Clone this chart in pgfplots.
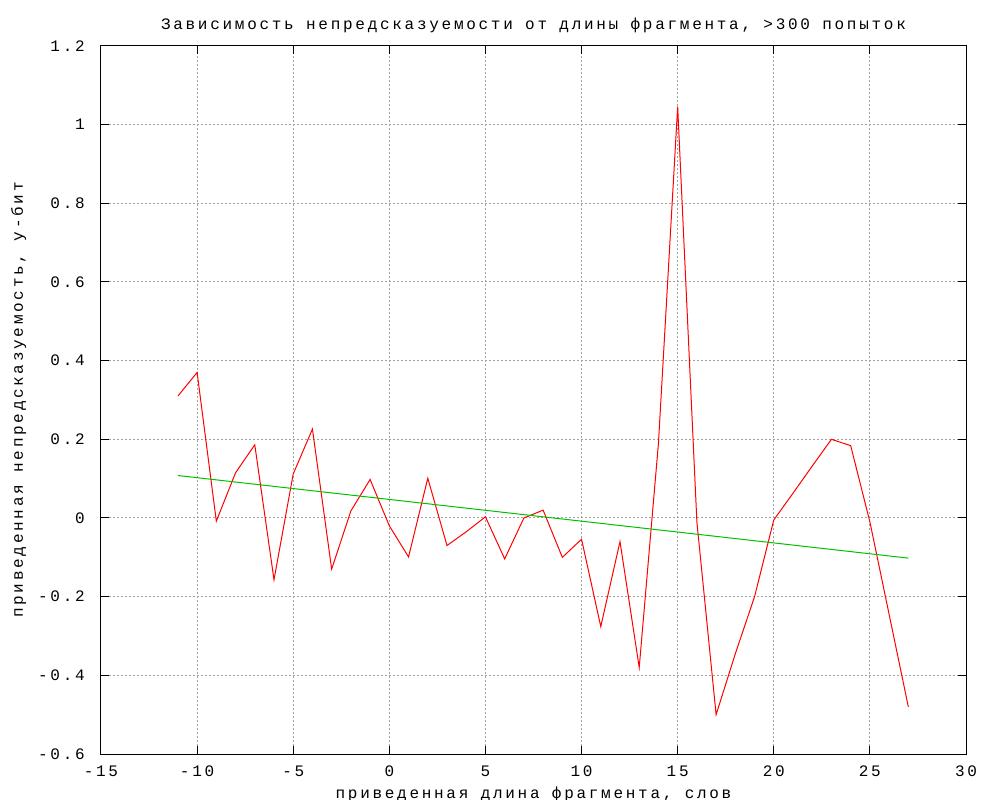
\documentclass[border=0pt]{standalone}
\usepackage{fontspec}
\setmainfont{Liberation Mono}[LetterSpace=17]
\usepackage{pgfplots}
\pgfplotsset{compat=1.18}
\definecolor{gpred}{HTML}{FF0000}
\definecolor{gpgreen}{HTML}{00C000}
\definecolor{gpgrid}{HTML}{A0A0A0}

\begin{document}
\fontsize{12pt}{14pt}\selectfont
\begin{tikzpicture}
\begin{axis}[
    at={(0,0)}, anchor=south west,
    scale only axis,
    width=648.75pt, height=531pt,
    xmin=-15, xmax=30, ymin=-0.6, ymax=1.2,
    xtick={-15,-10,...,30},
    ytick={-0.6,-0.4,-0.2,0,0.2,0.4,0.6,0.8,1,1.2},
    yticklabels={-0.6,-0.4,-0.2,0,0.2,0.4,0.6,0.8,1,1.2},
    tick align=inside,
    major tick length=6pt,
    every tick/.style={black, line width=0.75pt},
    axis line style={line width=0.75pt},
    grid=major,
    grid style={gpgrid, line width=0.75pt, dash pattern=on 1.5pt off 1.5pt},
    /pgf/number format/assume math mode=true,
    yticklabel style={anchor=east, xshift=-8pt},
    xticklabel style={anchor=north, yshift=-5pt},
    title={Зависимость непредсказуемости от длины фрагмента, >300 попыток},
    title style={at={(axis description cs:0.5,1.0113)}, anchor=base},
    xlabel={приведенная длина фрагмента, слов},
    xlabel style={at={(axis description cs:0.5,-0.063)}, anchor=base},
    ylabel={приведенная непредсказуемость, у-бит},
    ylabel style={at={(axis description cs:-0.0902,0.5)}, anchor=base},
]
\addplot[gpred, line width=0.75pt] coordinates {
    (-11,0.31) (-10,0.37) (-9,-0.008) (-8,0.115) (-7,0.186) (-6,-0.157)
    (-5,0.112) (-4,0.226) (-3,-0.13) (-2,0.018) (-1,0.098) (0,-0.02)
    (1,-0.099) (2,0.101) (3,-0.07) (4,-0.035) (5,0.003) (6,-0.104)
    (7,0.0) (8,0.02) (9,-0.1) (10,-0.054) (11,-0.276) (12,-0.06)
    (13,-0.38) (14,0.19) (15,1.046) (16,-0.01) (17,-0.5) (18,-0.345)
    (19,-0.2) (20,-0.005) (21,0.063) (22,0.132) (23,0.2) (24,0.184)
    (25,-0.01) (26,-0.245) (27,-0.48)
};
\addplot[gpgreen, line width=0.75pt] coordinates {
    (-11,0.108) (27,-0.102)
};
\end{axis}
\pgfresetboundingbox
\path (-75.75pt,-34.5pt) rectangle (674.25pt,565.5pt);
\end{tikzpicture}
\end{document}
